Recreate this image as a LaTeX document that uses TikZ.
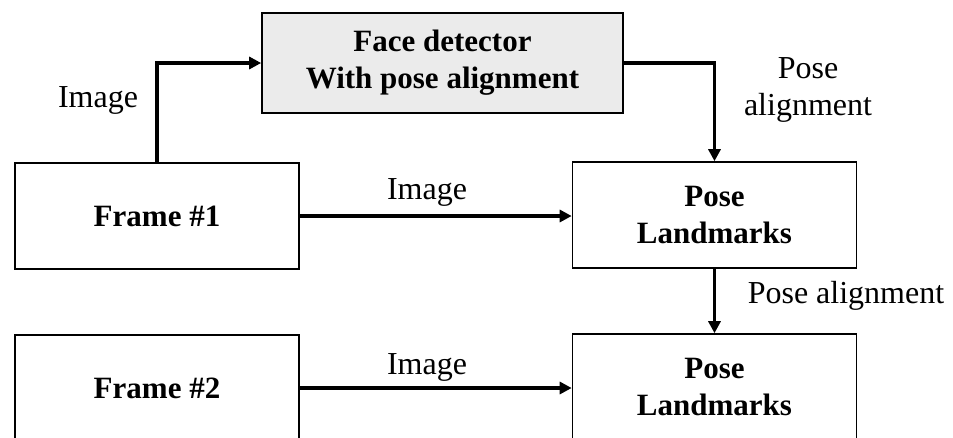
\documentclass[tikz,border=0pt]{standalone}
\usepackage{fontspec}
\setmainfont{Liberation Serif}
\usepackage{xcolor}
\usetikzlibrary{shapes}
\usetikzlibrary{positioning}
\usetikzlibrary{arrows.meta}
\definecolor{lightgrey}{rgb}{0.92,0.92,0.92}

\begin{document}
\begin{tikzpicture}[x=1pt,y=-1pt,font=\fontsize{32}{37}\selectfont]
\tikzset{
    block/.style    = {rectangle, draw=black, line width=1.6pt, align=center, minimum width=284pt, minimum height=106pt, font=\fontsize{31}{37}\selectfont\bfseries},
    detector/.style = {block, minimum width=361pt, minimum height=100pt, fill=lightgrey},
    link/.style     = {line width=3.4pt, -{Triangle[length=12pt,width=12pt]}},
    caption/.style  = {align=center, inner sep=0pt}
}
\clip (0,0) rectangle (953,437);
% boxes
\node [detector] (detector) at (442.5,63) {Face detector\\With pose alignment};
\node [block] (frame1) at (157,216) {Frame \#1};
\node [block] (pose1) at (714.5,215) {Pose\\Landmarks};
\node [block] (frame2) at (157,388) {Frame \#2};
\node [block] (pose2) at (714.5,387) {Pose\\Landmarks};
% labels
\node [caption] (img0) at (98,100) {Image};
\node [caption] (align1) at (808,90) {Pose\\alignment};
\node [caption] (img1) at (427,192) {Image};
\node [caption] (align2) at (846,296) {Pose alignment};
\node [caption] (img2) at (427,367) {Image};
% arrows
\draw [link] (frame1.north) |- (detector.west);
\draw [link] (detector.east) -| (pose1.north);
\draw [link] (frame1.east) -- (pose1.west |- frame1.east);
\draw [link] (pose1.south) -- (pose2.north);
\draw [link] (frame2.east) -- (pose2.west |- frame2.east);
\end{tikzpicture}
\end{document}
